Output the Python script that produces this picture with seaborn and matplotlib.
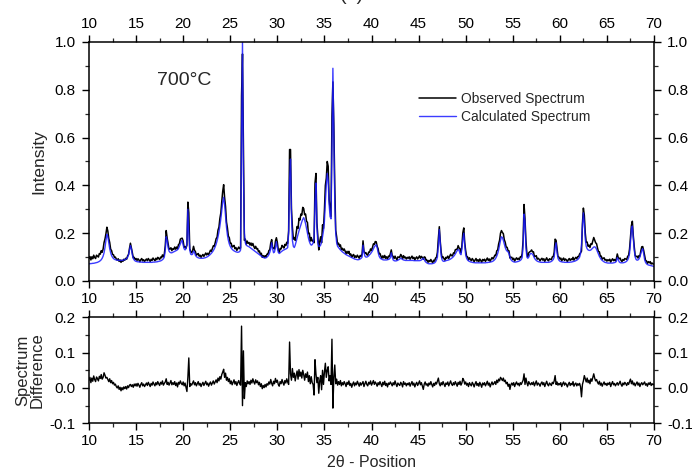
import numpy as np
import pandas as pd
import matplotlib
matplotlib.use("Agg")
import matplotlib.pyplot as plt
import seaborn as sns
from matplotlib.ticker import MultipleLocator

# 2-theta sampling: 10.0 .. 70.0 in 0.1 steps
two_theta_start, two_theta_end = 10.0, 70.0

# Calculated spectrum (one row per degree, 0.1 deg steps)
calculated = [
    .072, .072, .073, .073, .074, .074, .075, .076, .077, .078,
    .080, .082, .085, .089, .095, .104, .118, .140, .170, .195,
    .185, .160, .135, .118, .106, .099, .094, .091, .089, .088,
    .087, .087, .086, .086, .086, .086, .087, .088, .089, .091,
    .094, .099, .110, .128, .148, .135, .110, .095, .088, .084,
    .082, .081, .080, .080, .079, .079, .079, .078, .078, .078,
    .078, .078, .078, .078, .078, .078, .078, .078, .079, .079,
    .079, .080, .080, .081, .082, .083, .084, .086, .089, .093,
    .100, .130, .185, .170, .140, .125, .120, .118, .118, .120,
    .122, .124, .126, .128, .131, .136, .145, .155, .165, .170,
    .150, .135, .130, .135, .160, .300, .200, .130, .112, .110,
    .112, .125, .120, .108, .102, .099, .097, .096, .095, .095,
    .095, .095, .096, .097, .098, .100, .102, .105, .108, .112,
    .116, .121, .127, .134, .143, .154, .168, .185, .205, .230,
    .260, .295, .330, .350, .320, .270, .225, .192, .170, .155,
    .145, .138, .133, .129, .126, .124, .122, .121, .120, .121,
    .123, .130, .600, 1.00, .450, .200, .160, .150, .147, .145,
    .143, .140, .137, .134, .131, .128, .125, .122, .119, .116,
    .113, .110, .107, .104, .101, .099, .097, .096, .097, .100,
    .104, .110, .120, .135, .160, .135, .118, .122, .140, .165,
    .140, .120, .115, .118, .122, .125, .128, .130, .132, .134,
    .136, .140, .200, .420, .510, .280, .170, .145, .140, .150,
    .165, .180, .195, .210, .222, .235, .248, .258, .265, .255,
    .240, .220, .200, .180, .165, .155, .150, .152, .160, .180,
    .330, .410, .230, .160, .145, .145, .150, .165, .185, .210,
    .250, .330, .400, .450, .420, .320, .270, .260, .550, .890,
    .620, .330, .200, .160, .145, .140, .135, .130, .126, .122,
    .119, .116, .113, .110, .108, .106, .104, .102, .100, .098,
    .096, .094, .092, .091, .090, .089, .089, .090, .092, .095,
    .100, .150, .120, .104, .100, .100, .102, .105, .110, .114,
    .120, .126, .134, .143, .148, .152, .140, .120, .105, .097,
    .093, .091, .089, .088, .088, .088, .088, .089, .090, .092,
    .097, .118, .100, .088, .085, .084, .084, .085, .087, .089,
    .092, .095, .093, .090, .088, .087, .086, .086, .086, .086,
    .086, .086, .086, .086, .086, .085, .085, .085, .085, .085,
    .085, .085, .086, .088, .092, .095, .090, .082, .078, .075,
    .073, .072, .072, .072, .072, .073, .074, .076, .080, .088,
    .100, .150, .215, .160, .105, .088, .083, .082, .083, .085,
    .086, .087, .088, .090, .092, .095, .098, .102, .107, .113,
    .120, .127, .132, .128, .115, .110, .135, .175, .200, .150,
    .110, .095, .088, .084, .082, .080, .079, .078, .077, .077,
    .076, .076, .076, .076, .076, .076, .076, .076, .076, .076,
    .076, .076, .077, .077, .078, .078, .079, .080, .081, .083,
    .086, .090, .096, .104, .115, .130, .150, .170, .185, .182,
    .170, .155, .140, .130, .125, .122, .115, .100, .090, .085,
    .082, .080, .079, .079, .080, .081, .082, .084, .086, .090,
    .098, .150, .280, .250, .140, .100, .095, .100, .110, .115,
    .115, .112, .105, .096, .090, .086, .083, .081, .080, .079,
    .078, .078, .078, .078, .078, .078, .078, .078, .078, .079,
    .080, .082, .085, .090, .100, .140, .160, .120, .095, .087,
    .083, .081, .080, .079, .079, .078, .078, .078, .078, .078,
    .078, .079, .079, .080, .081, .082, .083, .085, .087, .090,
    .094, .100, .115, .150, .230, .285, .240, .175, .145, .135,
    .130, .128, .128, .130, .134, .138, .142, .143, .140, .132,
    .122, .112, .103, .096, .090, .086, .083, .080, .078, .077,
    .076, .075, .075, .075, .075, .075, .075, .076, .077, .078,
    .082, .098, .090, .080, .077, .076, .076, .076, .077, .078,
    .080, .083, .088, .097, .115, .160, .220, .230, .180, .130,
    .100, .090, .087, .088, .092, .100, .115, .128, .135, .115,
    .090, .078, .072, .069, .067, .066, .065, .064, .063, .062,
    .060,
]

# Spectrum difference (observed - calculated), same sampling
difference = [
    .022, .030, .015, .028, .019, .034, .024, .018, .031, .026,
    .020, .033, .027, .038, .025, .030, .043, .036, .028, .030,
    .024, .018, .026, .015, .021, .012, .016, .008, .011, .004,
    .000, .006, -.004, .002, -.008, .001, -.005, .003, -.002, .004,
    -.003, .006, .001, .008, .010, .004, .009, .002, .011, .006,
    .012, .005, .013, .008, .002, .010, .015, .006, .011, .004,
    .009, .014, .007, .016, .010, .004, .013, .008, .017, .011,
    .006, .015, .009, .018, .012, .007, .016, .011, .020, .008,
    .013, .017, .026, .010, .016, .008, .014, .021, .009, .015,
    .010, .018, .007, .014, .003, .016, .011, .020, .013, .009,
    .017, .006, .014, .002, -.010, .030, .085, .004, .012, .008,
    .014, .020, .009, .015, .006, .012, .018, .008, .013, .004,
    .011, .016, .007, .013, .019, .009, .014, .005, .012, .017,
    .008, .014, .020, .011, .017, .023, .015, .028, .020, .032,
    .025, .038, .045, .053, .030, .042, .022, .030, .018, .026,
    .012, .020, .009, .016, .023, .011, .018, .007, .015, .021,
    .012, .008, .175, -.050, .105, -.030, .015, .004, .020, .012,
    .018, .010, .022, .014, .026, .017, .011, .023, .015, .020,
    .009, .016, .004, .012, -.002, .007, .001, .010, .003, .012,
    .008, .017, .011, .024, .013, .006, .019, .012, .027, .016,
    .022, .010, .005, .018, .012, .024, .015, .008, .021, .014,
    .026, .017, .010, .130, .040, .022, .055, .030, .042, .020,
    .036, .048, .025, .052, .033, .045, .028, .050, .038, .022,
    .040, .030, .045, .018, .035, .012, .032, .015, .010, -.020,
    .080, .040, .015, .030, -.015, .020, .035, -.005, .050, .010,
    .045, .070, .030, .050, .060, .020, .035, .010, .138, -.057,
    .030, .065, .012, .025, .008, .018, .010, .021, .006, .015,
    .009, .018, .012, .004, .016, .010, .020, .007, .013, .002,
    .011, .017, .006, .014, .009, .019, .012, .005, .015, .008,
    .013, .018, .004, .012, .019, .010, .006, .016, .011, .020,
    .008, .014, .021, .010, .017, .012, .005, .015, .009, .018,
    .011, .004, .016, .009, .019, .007, .013, .003, .014, .010,
    .017, .012, .006, .015, .009, .020, .011, .004, .014, .010,
    .007, .016, .012, .003, .018, .010, .014, .006, .013, .009,
    .015, .005, .012, .018, .008, .014, .003, .011, .016, .007,
    .013, .020, .009, .015, .006, -.004, .011, .017, .008, .012,
    .005, .014, .009, .018, .010, .003, .013, .007, .016, .011,
    .020, .028, .012, .006, .015, .009, .018, .011, .004, .014,
    .010, .017, .006, .013, .020, .011, .007, .015, .009, .018,
    .012, .005, .016, .010, .019, .008, .014, .027, .022, .011,
    .017, .008, .013, .004, .015, .010, .006, .016, .011, .003,
    .012, .018, .007, .013, .005, .016, .010, .002, .014, .009,
    .015, .006, .012, .019, .008, .014, .003, .011, .017, .009,
    .013, .018, .010, .022, .015, .025, .020, .030, .026, .021,
    .028, .018, .022, .012, .016, .005, .011, -.004, .009, .014,
    .008, .015, .004, .012, .017, .009, .013, .006, .015, .010,
    .016, .022, .040, .010, .028, .015, .006, .018, .012, .009,
    .015, .010, .017, .006, .013, .020, .008, .014, .011, .005,
    .013, .017, .009, .015, .004, .012, .019, .010, .006, .014,
    .011, .007, .016, .012, .020, .035, .010, .017, .008, .013,
    .009, .015, .004, .012, .017, .008, .014, .010, .003, .011,
    .016, .007, .013, .009, .018, .005, .011, .014, .006, .012,
    .008, .013, .003, -.025, .010, .020, .035, .026, .017, .028,
    .015, .022, .012, .026, .019, .030, .040, .028, .020, .024,
    .016, .011, .019, .008, .014, .005, .012, .017, .009, .013,
    .007, .014, .010, .016, .004, .012, .018, .009, .013, .006,
    .011, .015, .008, .013, .019, .010, .005, .014, .009, .016,
    .012, .007, .015, .010, .018, .025, .012, .020, .009, .014,
    .006, .012, .017, .008, .014, .004, .011, .015, .009, .013,
    .017, .008, .012, .005, .014, .010, .016, .007, .012, .009,
    .011,
]

x_ticks = [10, 15, 20, 25, 30, 35, 40, 45, 50, 55, 60, 65, 70]
top_yticks = [0.0, 0.2, 0.4, 0.6, 0.8, 1.0]
bottom_yticks = [-0.1, 0.0, 0.1, 0.2]
annotation = "700°C"

n = len(calculated)
two_theta = np.linspace(two_theta_start, two_theta_end, n)
calc = np.array(calculated)
diff = np.array(difference)
observed = calc + diff

df = pd.DataFrame({"two_theta": two_theta, "observed": observed,
                   "calculated": calc, "difference": diff})

sns.set_theme(style="ticks")
plt.rcParams["font.family"] = ["Liberation Sans", "DejaVu Sans"]
plt.rcParams["axes.unicode_minus"] = False

fig = plt.figure(figsize=(6.92, 4.76), dpi=100)
ax1 = fig.add_axes([0.1286, 0.4097, 0.8165, 0.5021])
ax2 = fig.add_axes([0.1286, 0.1107, 0.8165, 0.2227])

sns.lineplot(data=df, x="two_theta", y="observed", ax=ax1, color="black",
             lw=1.1, estimator=None, sort=False, label="Observed Spectrum")
sns.lineplot(data=df, x="two_theta", y="calculated", ax=ax1, color="#1a1aff",
             lw=1.0, alpha=0.85, estimator=None, sort=False,
             label="Calculated Spectrum")
sns.lineplot(data=df, x="two_theta", y="difference", ax=ax2, color="black",
             lw=1.0, estimator=None, sort=False)

for ax in (ax1, ax2):
    ax.set_xlim(10, 70)
    ax.set_xticks(x_ticks)
    ax.xaxis.set_minor_locator(MultipleLocator(2.5))
    for sp in ax.spines.values():
        sp.set_visible(True)
        sp.set_linewidth(1.1)
        sp.set_color("black")
    ax.tick_params(which="major", direction="out", length=5, width=1.0,
                   labelsize=11, colors="black", pad=3,
                   top=True, right=True, bottom=True, left=True)
    ax.tick_params(which="minor", direction="out", length=3, width=0.9,
                   top=True, right=True, bottom=True, left=True)
    ax.tick_params(axis="y", which="major", pad=4.5)
    ax.set_xlabel("")
    ax.set_ylabel("")

ax1.set_ylim(0, 1.0)
ax1.set_yticks(top_yticks)
ax1.set_yticklabels([f"{v:.1f}" for v in top_yticks])
ax1.yaxis.set_minor_locator(MultipleLocator(0.1))
ax1.tick_params(labeltop=True, labelbottom=False, labelleft=True, labelright=True)

ax2.set_ylim(-0.1, 0.2)
ax2.set_yticks(bottom_yticks)
ax2.set_yticklabels([f"{v:.1f}" for v in bottom_yticks])
ax2.yaxis.set_minor_locator(MultipleLocator(0.05))
ax2.tick_params(labeltop=True, labelbottom=True, labelleft=True, labelright=True)

ax1.set_ylabel("Intensity", fontsize=12.5)
ax2.set_ylabel("Spectrum\nDifference", fontsize=12, linespacing=1.0)
ax2.set_xlabel("2θ - Position", fontsize=11.5, labelpad=5)
ax1.yaxis.set_label_coords(-0.075, 0.5)
ax2.yaxis.set_label_coords(-0.078, 0.5)

ax1.text(17.2, 0.84, annotation, fontsize=14, va="center", ha="left")

leg = ax1.legend(loc="upper left", bbox_to_anchor=(0.575, 0.815), frameon=False,
                 fontsize=10, handlelength=2.6, handletextpad=0.4,
                 labelspacing=0.3, borderaxespad=0)

fig.text(0.509, 0.992, "(a)", fontsize=14, ha="center", va="bottom")

fig.savefig("out.png", dpi=100)
